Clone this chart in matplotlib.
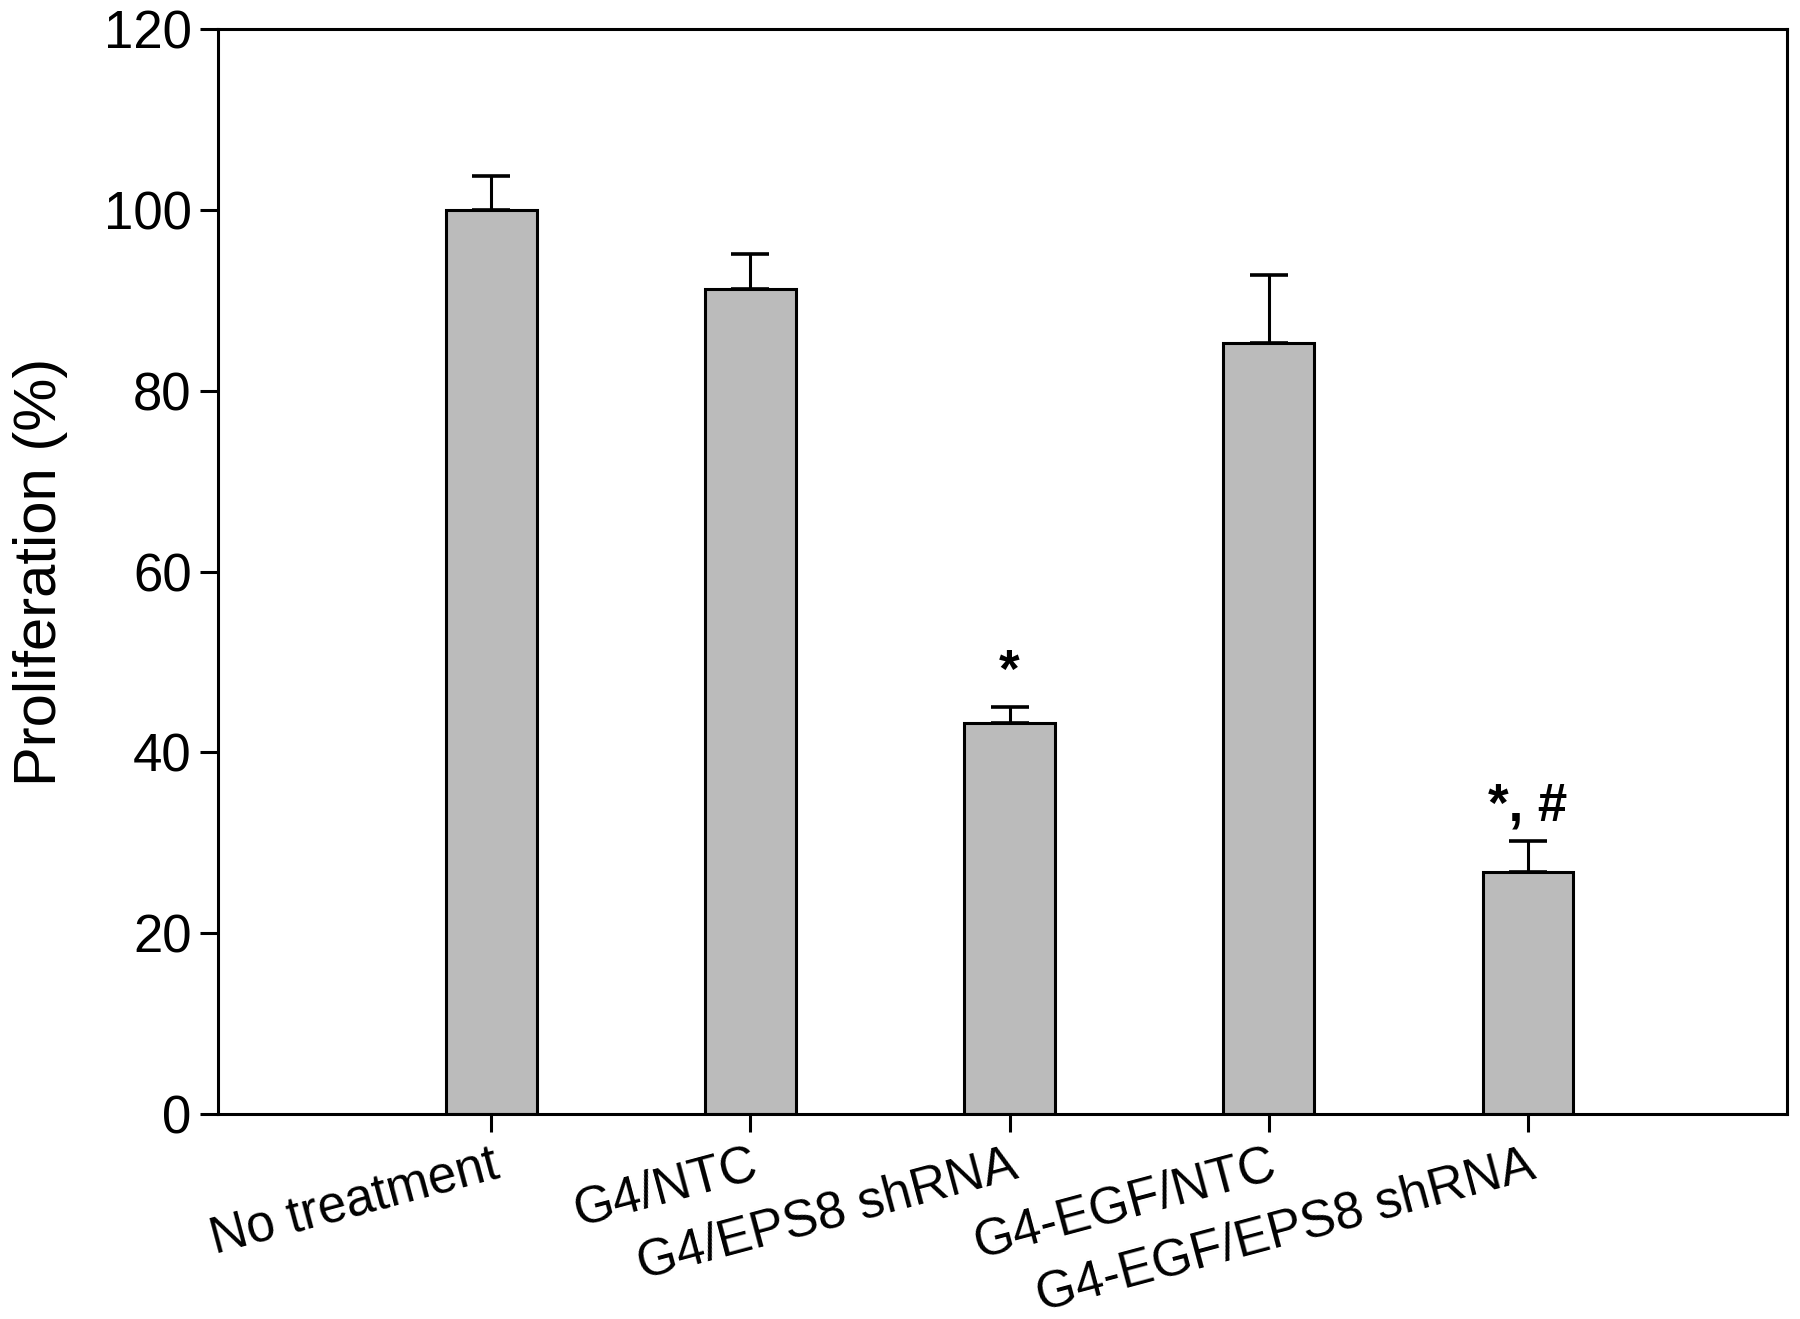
import numpy as np
import matplotlib.pyplot as plt

plt.rcParams['font.family'] = ['Liberation Sans', 'DejaVu Sans']

# data
groups = ['No treatment', 'G4/NTC', 'G4/EPS8 shRNA', 'G4-EGF/NTC', 'G4-EGF/EPS8 shRNA']
prolif = [100.0, 91.3, 43.3, 85.3, 26.8]
sem = [3.7, 3.8, 1.7, 7.5, 3.4]
marks = ['', '', '*', '', '*, #']
yticks = [0, 20, 40, 60, 80, 100, 120]

fig = plt.figure(figsize=(18, 13.19), dpi=100)
ax = fig.add_axes([0.1211, 0.1554, 0.8717, 0.8226])

x = np.arange(len(groups))
ax.bar(x, prolif, width=0.35, color='#bbbbbb', edgecolor='black', linewidth=2.2, zorder=2)
ax.errorbar(x, prolif, yerr=[np.zeros(len(sem)), sem], fmt='none', ecolor='black',
            elinewidth=2.2, capsize=14, capthick=2.6, zorder=1)

# significance marks above error bars
for xi, v, e, m in zip(x, prolif, sem, marks):
    if m:
        ax.text(xi, v + e + 1.0, m, ha='center', va='bottom', fontsize=38, fontweight='bold')

ax.set_xlim(-1.054, 5.0)
ax.set_ylim(0, 120)
ax.set_yticks(yticks)
ax.set_xticks(x)
ax.set_xticklabels(groups, rotation=15, ha='right', rotation_mode='anchor', fontsize=37)
ax.tick_params(axis='y', labelsize=38, length=13, width=2.2, direction='out', pad=6)
ax.tick_params(axis='x', length=13, width=2.2, direction='out', pad=6)
for s in ax.spines.values():
    s.set_linewidth(2.2)

ax.set_ylabel('Proliferation (%)', fontsize=43)
ax.yaxis.set_label_coords(-0.0956, 0.5)

fig.savefig('out.png', dpi=100)
